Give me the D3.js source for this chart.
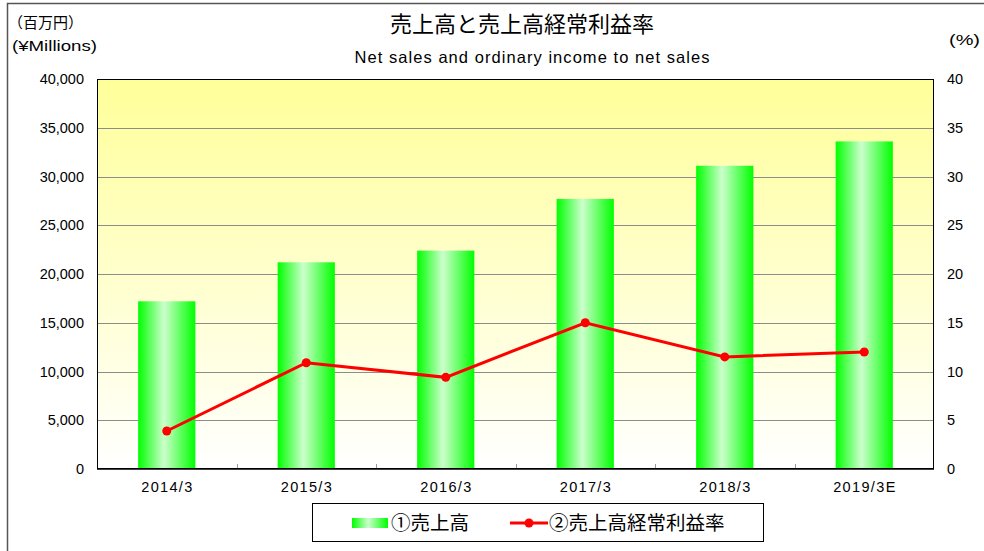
<!DOCTYPE html>
<html><head><meta charset="utf-8">
<script src="https://cdn.jsdelivr.net/npm/d3@7/dist/d3.min.js"></script>
<style>
html,body{margin:0;padding:0;background:#fff;}
svg{display:block;}
</style></head>
<body>
<svg id="c" width="984" height="551"></svg>
<script>
const categories = ["2014/3","2015/3","2016/3","2017/3","2018/3","2019/3E"];
const netSales = [17200, 21200, 22400, 27700, 31100, 33600];
const ordinaryIncomeRatio = [3.9, 10.9, 9.4, 15.0, 11.5, 12.0];
const leftTicks = [0,5000,10000,15000,20000,25000,30000,35000,40000];
const rightTicks = [0,5,10,15,20,25,30,35,40];
const titleJa = "売上高と売上高経常利益率";
const titleEn = "Net sales and ordinary income to net sales";
const legendLabels = ["①売上高","②売上高経常利益率"];

const svg = d3.select("#c");
const L=97, R=934, T=79, B=469;
const jp = "'Noto Sans CJK JP','Noto Sans',sans-serif";
const lat = "'Liberation Sans',Arial,sans-serif";

const defs = svg.append("defs");
const bg = defs.append("linearGradient").attr("id","bg").attr("x1",0).attr("y1",0).attr("x2",0).attr("y2",1);
bg.append("stop").attr("offset","0%").attr("stop-color","#ffff99");
bg.append("stop").attr("offset","100%").attr("stop-color","#ffffff");
const bar = defs.append("linearGradient").attr("id","bar").attr("x1",0).attr("y1",0).attr("x2",1).attr("y2",0);
bar.append("stop").attr("offset","0%").attr("stop-color","#00ff00");
bar.append("stop").attr("offset","45%").attr("stop-color","#ccffcc");
bar.append("stop").attr("offset","100%").attr("stop-color","#00ff00");

// outer frame
svg.append("path").attr("d","M7.5,551 L7.5,3.5 L984,3.5").attr("fill","none").attr("stroke","#555").attr("stroke-width",1.5);

const x = d3.scaleBand().domain(categories).range([L,R]).paddingInner(0).paddingOuter(0);
const yL = d3.scaleLinear().domain([0,40000]).range([B,T]);
const yR = d3.scaleLinear().domain([0,40]).range([B,T]);

svg.append("rect").attr("x",L).attr("y",T).attr("width",R-L).attr("height",B-T).attr("fill","url(#bg)");

// gridlines
svg.append("g").selectAll("line").data(leftTicks.slice(1,-1)).join("line")
  .attr("x1",L).attr("x2",R).attr("y1",d=>Math.round(yL(d))+0.5).attr("y2",d=>Math.round(yL(d))+0.5)
  .attr("stroke","#8c8c8c").attr("stroke-width",1);

// bars
const bw = x.bandwidth()*0.41;
svg.append("g").selectAll("rect").data(netSales).join("rect")
  .attr("x",(d,i)=>x(categories[i])+x.bandwidth()/2-bw/2)
  .attr("y",d=>yL(d)).attr("width",bw).attr("height",d=>B-yL(d))
  .attr("fill","url(#bar)");

// category tick marks (inward)
svg.append("g").selectAll("line").data(categories.slice(1)).join("line")
  .attr("x1",d=>Math.round(x(d))+0.5).attr("x2",d=>Math.round(x(d))+0.5).attr("y1",B-5).attr("y2",B)
  .attr("stroke","#999");

// plot border
svg.append("rect").attr("x",L+0.5).attr("y",T+0.5).attr("width",R-L-1).attr("height",B-T-1)
  .attr("fill","none").attr("stroke","#000").attr("stroke-width",1);
svg.append("line").attr("x1",L).attr("x2",R).attr("y1",B).attr("y2",B).attr("stroke","#000").attr("stroke-width",1.5);

// line
const line = d3.line().x((d,i)=>x(categories[i])+x.bandwidth()/2).y(d=>yR(d));
svg.append("path").datum(ordinaryIncomeRatio).attr("d",line).attr("fill","none").attr("stroke","#ff0000").attr("stroke-width",3);
svg.append("g").selectAll("circle").data(ordinaryIncomeRatio).join("circle")
  .attr("cx",(d,i)=>x(categories[i])+x.bandwidth()/2).attr("cy",d=>yR(d)).attr("r",4.5).attr("fill","#ff0000");

// axes
const axL = d3.axisLeft(yL).tickValues(leftTicks).tickSize(0).tickPadding(13).tickFormat(d3.format(","));
const gL = svg.append("g").attr("transform",`translate(${L},0)`).call(axL);
gL.select(".domain").remove();
gL.selectAll("text").attr("font-family",lat).attr("font-size",14.5).attr("fill","#000");

const axR = d3.axisRight(yR).tickValues(rightTicks).tickSize(0).tickPadding(13);
const gR = svg.append("g").attr("transform",`translate(${R},0)`).call(axR);
gR.select(".domain").remove();
gR.selectAll("text").attr("font-family",lat).attr("font-size",14.5).attr("fill","#000");

const axB = d3.axisBottom(x).tickSize(0).tickPadding(13);
const gB = svg.append("g").attr("transform",`translate(0,${B})`).call(axB);
gB.select(".domain").remove();
gB.selectAll("text").attr("font-family",lat).attr("font-size",14.5).attr("fill","#000")
  .each(function(){ const w=this.getComputedTextLength(); d3.select(this).attr("textLength",w*1.15).attr("lengthAdjust","spacing"); });

// titles
svg.append("text").attr("x",522).attr("y",32).attr("text-anchor","middle").attr("font-family",jp).attr("font-size",22).attr("fill","#000").text(titleJa);
svg.append("text").attr("x",532).attr("y",63).attr("text-anchor","middle").attr("font-family",lat).attr("font-size",16.5).attr("textLength",355).attr("lengthAdjust","spacing").attr("fill","#000").text(titleEn);
svg.append("text").attr("x",8).attr("y",28).attr("font-family",jp).attr("font-size",15).attr("fill","#000").text("（百万円）");
svg.append("text").attr("x",12).attr("y",51).attr("font-family",lat).attr("font-size",14.5).attr("textLength",85).attr("lengthAdjust","spacingAndGlyphs").attr("fill","#000").text("(¥Millions)");
svg.append("text").attr("x",949).attr("y",45).attr("font-family",lat).attr("font-size",15.5).attr("textLength",31).attr("lengthAdjust","spacingAndGlyphs").attr("fill","#000").text("(%)");

// legend
svg.append("rect").attr("x",312.5).attr("y",503.5).attr("width",451).attr("height",38).attr("fill","#fff").attr("stroke","#000").attr("stroke-width",1);
svg.append("rect").attr("x",352).attr("y",518).attr("width",36).attr("height",10).attr("fill","url(#bar)");
svg.append("text").attr("x",391).attr("y",530).attr("font-family",jp).attr("font-size",19.5).attr("fill","#000").text(legendLabels[0]);
svg.append("line").attr("x1",510).attr("x2",548).attr("y1",523).attr("y2",523).attr("stroke","#ff0000").attr("stroke-width",3);
svg.append("circle").attr("cx",529).attr("cy",523).attr("r",4.5).attr("fill","#ff0000");
svg.append("text").attr("x",549).attr("y",530).attr("font-family",jp).attr("font-size",19.5).attr("fill","#000").text(legendLabels[1]);
</script>
</body></html>
